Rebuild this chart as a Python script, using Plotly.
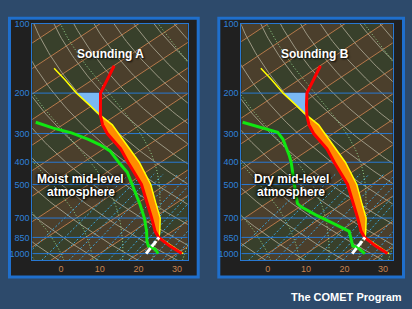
import numpy as np
import plotly.graph_objects as go

W, H = 412, 309
SKEW = 90.0  # skew of the diagram, deg C per decade of pressure

# ---------------- data ----------------
P_TICKS = [100, 200, 300, 400, 500, 700, 850, 1000]
P_TICK_TEXT = ["100", "200", "300", "400", "500", "700", "850", "1000"]
T_TICKS = [0, 10, 20, 30]
T_TICK_TEXT = ["0", "10", "20", "30"]

# environmental temperature (same in both soundings)
P_ENV = [1000, 925, 850, 800, 700, 600, 500, 400, 350, 300, 275, 250, 225, 200, 175, 152]
T_ENV = [31.2, 25.0, 18.9, 15.6, 9.5, 2.2, -6.3, -18.5, -25.6, -35.1, -39.7, -44.0, -48.2, -52.7, -56.2, -59.9]

# lifted parcel
P_PARCEL = [1000, 925, 850, 800, 700, 600, 500, 400, 350, 300, 275, 250, 225, 200, 175, 156]
T_PARCEL = [31.6, 25.4, 19.0, 16.8, 11.7, 4.5, -3.9, -15.6, -23.2, -32.2, -37.2, -44.0, -51.0, -58.9, -67.1, -74.4]

# dewpoint, sounding A (moist mid levels)
P_TD_A = [1000, 957, 927, 882, 800, 700, 614, 539, 473, 442, 400, 381, 357, 335, 318, 298, 284, 268]
TD_A = [25.1, 22.6, 19.6, 17.3, 13.4, 7.6, 1.4, -5.1, -11.5, -14.8, -20.9, -23.8, -27.6, -32.8, -37.7, -44.6, -51.2, -58.0]

# dewpoint, sounding B (dry mid levels)
P_TD_B = [1000, 942, 927, 867, 800, 737, 678, 625, 605, 557, 504, 442, 400, 375, 340, 318, 296, 287, 279, 268]
TD_B = [25.3, 21.1, 19.2, 16.2, 12.5, 5.0, -2.7, -9.7, -11.9, -15.5, -19.8, -25.4, -29.7, -32.7, -37.5, -40.8, -45.0, -48.9, -52.9, -58.0]

# lifting path (surface to LCL)
P_LIFT = [1000, 850]
T_LIFT = [22.0, 19.0]

# index range of the positive / negative area (into P_ENV / P_PARCEL)
CAPE_IDX = (2, 11)   # 850 -> 250 hPa
NEG_IDX = (11, 13)   # 250 -> 200 hPa

# background reference lines of the diagram
ISOTHERMS = list(range(-130, 60, 10))
DRY_THETA_K = list(range(250, 520, 10))
MOIST_TW = [-16, -8, 0, 8, 16, 24, 32]
MIX_G_KG = [2, 3, 4, 5, 6, 8, 10, 12, 14, 16, 20, 24, 28]

# ---------------- styling ----------------
PAGE = "#2d4a6b"
PANEL = "#202020"
BORDER = "#1f6fcc"
FRAME = "#2878d2"
YLAB = "#2f80da"
XLAB = "#c88450"
BROWN = "#4b3f2c"
GREEN_BG = "#38402b"
ISO_C = "#b97a4b"
DRY_C = "#9c9884"
MOIST_C = "#96d48e"
MIX_C = "#3ea6de"
FONT = "Liberation Sans, Arial, sans-serif"

P_BOT, P_TOP = 1100.0, 90.0


def skx(T, p):
    return np.asarray(T, float) + SKEW * np.log10(1000.0 / np.asarray(p, float))


def dry_T(theta_k, p):
    return theta_k * (p / 1000.0) ** 0.2857 - 273.15


def moist_profile(tw, plist):
    Rd, Cp, Lv, eps = 287.04, 1005.7, 2.501e6, 0.622

    def f(T, lnp):
        p = np.exp(lnp)
        Tc = T - 273.15
        es = 6.112 * np.exp(17.67 * Tc / (Tc + 243.5))
        rs = eps * es / (p - es)
        return (Rd * T + Lv * rs) / (Cp + Lv * Lv * rs * eps / (Rd * T * T))

    out = []
    for pt in plist:
        T = tw + 273.15
        a, b = np.log(1000.0), np.log(pt)
        n = 60
        h = (b - a) / n
        x = a
        for _ in range(n):
            k1 = f(T, x)
            k2 = f(T + h * k1 / 2, x + h / 2)
            k3 = f(T + h * k2 / 2, x + h / 2)
            k4 = f(T + h * k3, x + h)
            T += h * (k1 + 2 * k2 + 2 * k3 + k4) / 6
            x += h
        out.append(T - 273.15)
    return np.array(out)


def mix_T(w, p):
    e = (w / 1000.0) * p / (0.622 + w / 1000.0)
    l = np.log(e / 6.112)
    return 243.5 * l / (17.67 - l)


def join(segs):
    xs, ys = [], []
    for x, y in segs:
        xs += list(x) + [None]
        ys += list(y) + [None]
    return xs, ys


pgrid = np.logspace(np.log10(P_BOT), np.log10(P_TOP), 90)
pmoist = np.logspace(np.log10(P_BOT), np.log10(P_TOP), 45)
pmix = np.logspace(np.log10(P_BOT), np.log10(450), 30)

fig = go.Figure()

panels = [
    dict(xa="x", ya="y", xdom=[32.3 / W, 187.7 / W], xr=[-7.42, 32.74], P_TD=P_TD_A, TD=TD_A),
    dict(xa="x2", ya="y2", xdom=[241.3 / W, 392.7 / W], xr=[-6.875, 32.55], P_TD=P_TD_B, TD=TD_B),
]

moist_curves = [moist_profile(tw, pmoist) for tw in MOIST_TW]

for pn in panels:
    ax = dict(xaxis=pn["xa"], yaxis=pn["ya"], showlegend=False, hoverinfo="skip")
    # stripes between isotherms
    b_segs, g_segs = [], []
    for i in range(len(ISOTHERMS) - 1):
        t0, t1 = ISOTHERMS[i], ISOTHERMS[i + 1]
        px = [skx(t0, P_BOT), skx(t0, P_TOP), skx(t1, P_TOP), skx(t1, P_BOT), skx(t0, P_BOT)]
        py = [P_BOT, P_TOP, P_TOP, P_BOT, P_BOT]
        (b_segs if (t0 // 10) % 2 == 0 else g_segs).append((px, py))
    for segs, col in ((b_segs, BROWN), (g_segs, GREEN_BG)):
        xs, ys = join(segs)
        fig.add_trace(go.Scatter(x=xs, y=ys, mode="lines", fill="toself", fillcolor=col,
                                 line=dict(width=0, color=col), **ax))
    # isotherms
    xs, ys = join([([skx(t, P_BOT), skx(t, P_TOP)], [P_BOT, P_TOP]) for t in ISOTHERMS])
    fig.add_trace(go.Scatter(x=xs, y=ys, mode="lines", line=dict(color=ISO_C, width=1), **ax))
    # dry adiabats
    xs, ys = join([(skx(dry_T(th, pgrid), pgrid), pgrid) for th in DRY_THETA_K])
    fig.add_trace(go.Scatter(x=xs, y=ys, mode="lines", line=dict(color=DRY_C, width=1), **ax))
    # moist adiabats
    xs, ys = join([(skx(c, pmoist), pmoist) for c in moist_curves])
    fig.add_trace(go.Scatter(x=xs, y=ys, mode="lines",
                             line=dict(color=MOIST_C, width=1, dash="1px,2px"), **ax))
    # mixing ratio lines
    xs, ys = join([(skx(mix_T(w, pmix), pmix), pmix) for w in MIX_G_KG])
    fig.add_trace(go.Scatter(x=xs, y=ys, mode="lines",
                             line=dict(color=MIX_C, width=1, dash="2px,2px"), **ax))
    # isobars
    xs, ys = join([(pn["xr"], [p, p]) for p in P_TICKS[1:]])
    fig.add_trace(go.Scatter(x=xs, y=ys, mode="lines", line=dict(color=FRAME, width=1), **ax))

    xe = skx(T_ENV, P_ENV)
    xp = skx(T_PARCEL, P_PARCEL)
    a, b = CAPE_IDX
    fx = list(xp[a:b + 1]) + list(xe[a:b + 1][::-1])
    fy = list(P_PARCEL[a:b + 1]) + list(P_ENV[a:b + 1][::-1])
    fig.add_trace(go.Scatter(x=fx, y=fy, mode="lines", fill="toself", fillcolor="#ff8c00",
                             line=dict(width=0, color="#ff8c00"), **ax))
    a, b = NEG_IDX
    fx = list(xe[a:b + 1]) + list(xp[a:b + 1][::-1])
    fy = list(P_ENV[a:b + 1]) + list(P_PARCEL[a:b + 1][::-1])
    fig.add_trace(go.Scatter(x=fx, y=fy, mode="lines", fill="toself", fillcolor="#7ab8f4",
                             line=dict(width=0, color="#7ab8f4"), **ax))
    # parcel, temperature, dewpoint, lift
    fig.add_trace(go.Scatter(x=xp, y=P_PARCEL, mode="lines", line=dict(color="#ffff00", width=1.5), **ax))
    fig.add_trace(go.Scatter(x=xe, y=P_ENV, mode="lines", line=dict(color="#ff0000", width=3), **ax))
    fig.add_trace(go.Scatter(x=skx(pn["TD"], pn["P_TD"]), y=pn["P_TD"], mode="lines",
                             line=dict(color="#11e611", width=3), **ax))
    fig.add_trace(go.Scatter(x=skx(T_LIFT, P_LIFT), y=P_LIFT, mode="lines",
                             line=dict(color="#ffffff", width=3, dash="7px,2px"), **ax))

ydom = [1 - 259.3 / H, 1 - 19.3 / H]
yr = [3.0283, 2.0]


def xaxis_cfg(pn, anchor):
    return dict(domain=pn["xdom"], range=pn["xr"], anchor=anchor, showgrid=False, zeroline=False,
                tickmode="array", tickvals=T_TICKS, ticktext=T_TICK_TEXT, ticks="",
                tickfont=dict(size=9, color=XLAB, family=FONT), showline=True, mirror=True,
                linecolor=FRAME, linewidth=1, layer="above traces", fixedrange=True)


def yaxis_cfg(anchor):
    return dict(domain=ydom, type="log", range=yr, anchor=anchor, showgrid=False, zeroline=False,
                tickmode="array", tickvals=P_TICKS, ticktext=P_TICK_TEXT, ticks="",
                tickfont=dict(size=9, color=YLAB, family=FONT), showline=True, mirror=True,
                linecolor=FRAME, linewidth=1, layer="above traces", fixedrange=True)


def px2x(v):
    return v / W


def px2y(v):
    return 1 - v / H


shapes = []
for x0, x1 in ((9.5, 198.2), (218.8, 403.5)):
    shapes.append(dict(type="rect", xref="paper", yref="paper", x0=px2x(x0), x1=px2x(x1),
                       y0=px2y(276.5), y1=px2y(13.5), line=dict(color=BORDER, width=3),
                       fillcolor=PANEL, layer="below"))

SHADOW = "0px 0px 3px #000000, 0px 0px 5px #000000, 1px 1px 2px #000000"


def ann(text, x, y, size=12, xanchor="center", shadow=SHADOW):
    return dict(text="<b>" + text + "</b>", xref="paper", yref="paper", x=px2x(x), y=px2y(y),
                xanchor=xanchor, yanchor="middle", showarrow=False,
                font=dict(size=size, color="#ffffff", family=FONT, shadow=shadow))


annotations = [
    ann("Sounding A", 110, 50, shadow="1px 1px 2px #000000"),
    ann("Sounding B", 315.3, 50, shadow="1px 1px 2px #000000"),
    ann("Moist mid-level", 80.8, 176.5),
    ann("atmosphere", 81, 190.5),
    ann("Dry mid-level", 291.2, 176.5),
    ann("atmosphere", 290.5, 190.5),
    ann("The COMET Program", 404.3, 297, size=11, xanchor="right", shadow="none"),
]

fig.update_layout(
    width=W, height=H, margin=dict(l=0, r=0, t=0, b=0),
    paper_bgcolor=PAGE, plot_bgcolor=GREEN_BG,
    xaxis=xaxis_cfg(panels[0], "y"), yaxis=yaxis_cfg("x"),
    xaxis2=xaxis_cfg(panels[1], "y2"), yaxis2=yaxis_cfg("x2"),
    shapes=shapes, annotations=annotations, showlegend=False,
)

fig.write_html("out.html")
